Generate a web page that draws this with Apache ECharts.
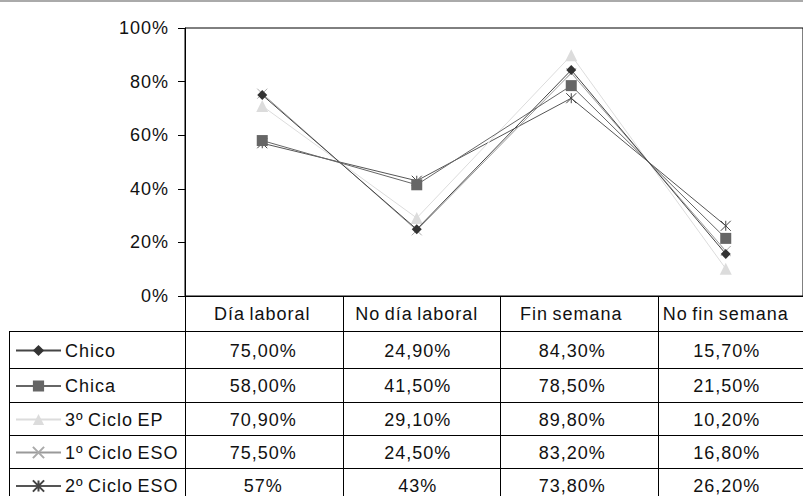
<!DOCTYPE html>
<html>
<head>
<meta charset="utf-8">
<script src="https://cdn.jsdelivr.net/npm/echarts@6/dist/echarts.min.js"></script>
<style>
  html, body { margin: 0; padding: 0; background: #fff; }
  #chart { width: 803px; height: 496px; }
  /* the original text is spread out a bit */
  #chart svg text { letter-spacing: 1px; word-spacing: -1.5px; }
</style>
</head>
<body>
<div id="chart"></div>
<script>
  // categories / data
  const categories = ['Día laboral', 'No día laboral', 'Fin semana', 'No fin semana']
  const seriesNames = ['Chico', 'Chica', '3º Ciclo EP', '1º Ciclo ESO', '2º Ciclo ESO']
  const chico = [75.0, 24.9, 84.3, 15.7]
  const chica = [58.0, 41.5, 78.5, 21.5]
  const cicloEP3 = [70.9, 29.1, 89.8, 10.2]
  const cicloESO1 = [75.5, 24.5, 83.2, 16.8]
  const cicloESO2 = [57, 43, 73.8, 26.2]
  const tableLabels = [
    ['75,00%', '24,90%', '84,30%', '15,70%'],
    ['58,00%', '41,50%', '78,50%', '21,50%'],
    ['70,90%', '29,10%', '89,80%', '10,20%'],
    ['75,50%', '24,50%', '83,20%', '16,80%'],
    ['57%', '43%', '73,80%', '26,20%']
  ]
  const yTicks = [0, 20, 40, 60, 80, 100]

  const FONT = 'Liberation Sans, Arial, sans-serif'
  const FS = 18
  const rowLines = [331, 368, 402, 435, 468, 502]
  const tableLeft = 9
  const gridLeft = 185
  const gridTop = 28
  const gridBottomY = 296
  const colW = 157.5

  const styles = [
    { line: '#454545', sym: '#333', symbol: 'diamond', size: 10 },
    { line: '#666', sym: '#666', symbol: 'rect', size: 11 },
    { line: '#dcdcdc', sym: '#dcdcdc', symbol: 'triangle', size: 12 },
    { line: '#9a9a9a', sym: '#aaa', symbol: 'path://M0,0L10,10M10,0L0,10', size: 10, stroke: true },
    { line: '#555', sym: '#444', symbol: 'path://M0,0L10,10M10,0L0,10M5,0L5,10', size: 10, stroke: true }
  ]
  const values = [chico, chica, cicloEP3, cicloESO1, cicloESO2]

  const chart = echarts.init(document.getElementById('chart'), null, { renderer: 'svg' })

  const series = seriesNames.map((name, i) => {
    const s = styles[i]
    return {
      name: name,
      type: 'line',
      data: values[i],
      symbol: s.symbol,
      symbolSize: s.size,
      showAllSymbol: true,
      lineStyle: { color: s.line, width: 1 },
      itemStyle: s.stroke
        ? { color: 'rgba(0,0,0,0)', borderColor: s.sym, borderWidth: 1 }
        : { color: s.sym, borderWidth: 0 },
      emphasis: { disabled: true },
      animation: false,
      z: 10 - i
    }
  })

  const legends = seriesNames.map((name, i) => ({
    data: [name],
    left: 15,
    top: (rowLines[i] + rowLines[i + 1]) / 2 - 8,
    itemWidth: 45,
    itemHeight: 14,
    itemGap: 4,
    selectedMode: false,
    textStyle: { fontFamily: FONT, fontSize: FS, color: '#111', padding: [0, 0, 0, -1] },
    padding: 0
  }))

  chart.setOption({
    backgroundColor: '#fff',
    animation: false,
    legend: legends,
    grid: {
      left: gridLeft,
      top: gridTop,
      width: colW * categories.length,
      height: gridBottomY - gridTop,
      show: true,
      borderColor: '#000',
      borderWidth: 1,
      backgroundColor: 'transparent'
    },
    xAxis: {
      type: 'category',
      data: categories,
      boundaryGap: true,
      axisLine: { lineStyle: { color: '#000', width: 1 } },
      axisTick: { show: false },
      axisLabel: { fontFamily: FONT, fontSize: FS, color: '#111', margin: 9 }
    },
    yAxis: {
      type: 'value',
      min: yTicks[0],
      max: yTicks[yTicks.length - 1],
      interval: 20,
      axisLine: { show: true, lineStyle: { color: '#000', width: 1 } },
      axisTick: { show: true, length: 7, lineStyle: { color: '#000' } },
      splitLine: { show: false },
      axisLabel: { fontFamily: FONT, fontSize: FS, color: '#111', margin: 16, formatter: '{value}%' }
    },
    series: series
  })

  // data table under the plot
  const graphics = []
  graphics.push({ type: 'rect', shape: { x: 0, y: 0, width: 803, height: 2 }, style: { fill: '#aaa' } })
  const tableRight = gridLeft + colW * categories.length
  rowLines.slice(0, 5).forEach(y => {
    graphics.push({ type: 'line', shape: { x1: tableLeft, y1: y + 0.5, x2: tableRight, y2: y + 0.5 }, style: { stroke: '#000', lineWidth: 1 } })
  })
  graphics.push({ type: 'line', shape: { x1: tableLeft + 0.5, y1: rowLines[0], x2: tableLeft + 0.5, y2: 496 }, style: { stroke: '#000', lineWidth: 1 } })
  for (let c = 0; c < categories.length; c++) {
    const x = Math.round(gridLeft + colW * c) + 0.5
    graphics.push({ type: 'line', shape: { x1: x, y1: gridBottomY, x2: x, y2: 496 }, style: { stroke: '#000', lineWidth: 1 } })
  }
  tableLabels.forEach((row, r) => {
    const cy = (rowLines[r] + rowLines[r + 1]) / 2 + 1
    row.forEach((txt, c) => {
      const cx = chart.convertToPixel({ xAxisIndex: 0 }, c)
      graphics.push({
        type: 'text',
        x: cx + 1,
        y: cy,
        style: { text: txt, fontFamily: FONT, fontSize: FS, fill: '#111', align: 'center', verticalAlign: 'middle' }
      })
    })
  })
  chart.setOption({ graphic: graphics })
</script>
</body>
</html>
